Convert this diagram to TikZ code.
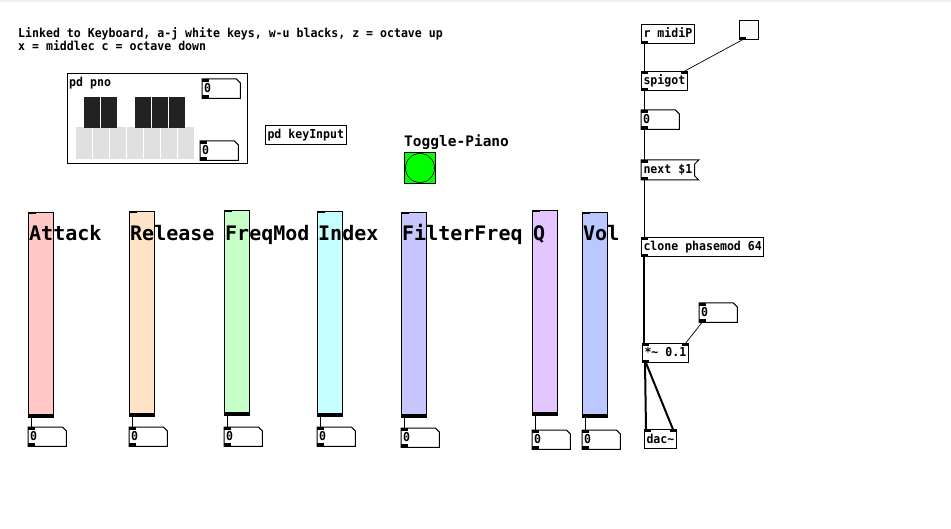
\documentclass[tikz,border=0pt]{standalone}
\usepackage{fontspec}
\setmonofont{DejaVu Sans Mono}
\newfontfamily\pdmono[FakeStretch=0.94]{DejaVu Sans Mono}
\usetikzlibrary{calc}
\newcommand\pdfont{\pdmono\bfseries\fontsize{12.3}{12.5}\selectfont}
\newcommand\pdin[1]{\fill (#1.north west) rectangle ++(7,3);}
\newcommand\pdinr[1]{\fill (#1.north east) rectangle ++(-7,3);}
\newcommand\pdout[1]{\fill (#1.south west) rectangle ++(7,-3);}
\newcommand\numbox[3]{%
  \node[num] (#1) at (#2,#3) {0};
  \draw[line width=1pt] (#1.north west) -- ($(#1.north east)+(-4,0)$) -- ($(#1.north east)+(0,4)$)
    -- (#1.south east) -- (#1.south west) -- cycle;
  \pdin{#1}\pdout{#1}}
\definecolor{attackc}{HTML}{FFC7C6}
\definecolor{releasec}{HTML}{FFE3C6}
\definecolor{freqc}{HTML}{C6FFC7}
\definecolor{indexc}{HTML}{C6FFFF}
\definecolor{filterc}{HTML}{C7C6FF}
\definecolor{qc}{HTML}{E3C6FF}
\definecolor{volc}{HTML}{BAC8FF}
\definecolor{keyw}{HTML}{E0E0E0}
\definecolor{keyb}{HTML}{222222}

\begin{document}
\begin{tikzpicture}[x=1pt,y=-1pt,
  obj/.style={draw,line width=1pt,anchor=north west,inner xsep=2pt,inner ysep=0pt,
    minimum height=19pt,text height=9pt,text depth=1pt,font=\pdfont},
  num/.style={anchor=north west,inner xsep=2pt,inner ysep=0pt,text width=34pt,
    minimum height=19pt,text height=9pt,text depth=1pt,align=left,font=\pdfont},
  ctl/.style={line width=1pt},
  sig/.style={line width=2pt},
  big/.style={font=\ttfamily\bfseries\fontsize{20}{20}\selectfont,anchor=base west,inner sep=0pt}]
\useasboundingbox (0,0) rectangle (951,529);
\fill[gray!12] (0,0) rectangle (951,2);

% comment
\node[anchor=base west,inner sep=0pt,font=\pdfont] (cmt1) at (18,37.5) {Linked to Keyboard, a-j white keys, w-u blacks, z = octave up};
\node[anchor=base west,inner sep=0pt,font=\pdfont] (cmt2) at (18,50.5) {x = middlec c = octave down};

% piano
\node[draw,line width=1pt,minimum width=180pt,minimum height=90pt,inner sep=0pt,anchor=north west] (pno) at (67,73) {};
\node[anchor=base west,inner sep=0pt,font=\pdfont] (pnol) at (69,87) {pd pno};
\foreach \k in {0,...,6}
  \fill[keyw] (76+\k*17,127) rectangle ++(16,32);
\foreach \k in {84,101,135,152,169}
  \fill[keyb] (\k,97) rectangle ++(16,31);
\numbox{pa}{202}{79}
\numbox{pb}{200}{141}

\node[obj] (keys) at (265,125) {pd keyInput};

% bang
\node[anchor=base west,inner sep=0pt,font=\ttfamily\bfseries\fontsize{14.5}{15}\selectfont] (bngl) at (404,146.5) {Toggle-Piano};
\node[draw,line width=1pt,fill=green,minimum size=31pt,inner sep=0pt,anchor=north west] (bng) at (404,152) {};
\draw[line width=0.6pt] (bng.center) circle (14.5);

% sliders
\foreach \lbl/\x/\y/\ny/\c [count=\i] in {Attack/28/212/427/attackc, Release/129/211/427/releasec,
    FreqMod/224/210/427/freqc, Index/317/211/427/indexc, FilterFreq/401/212/428/filterc,
    Q/532/210/430/qc, Vol/582/212/430/volc} {
  \node[draw,line width=1pt,fill=\c,minimum width=25pt,minimum height=205pt,inner sep=0pt,anchor=north west] (s\i) at (\x,\y) {};
  \fill (s\i.south west) rectangle ($(s\i.south east)+(0,-4)$);
  \fill (s\i.north west) rectangle ++(8,2);
  \node[big] (l\i) at (\x+1,241) {\lbl};
  \numbox{n\i}{\x}{\ny}
  \draw[ctl] ($(s\i.south west)+(3,0)$) -- ($(n\i.north west)+(3,0)$);
}

% right column
\node[obj] (midi) at (641,24) {r midiP};
\node[draw,line width=1pt,fill=white!98!black,minimum size=19pt,inner sep=0pt,anchor=north west] (tog) at (739,20) {};
\node[obj] (spig) at (641,71) {spigot};
\numbox{pn}{641}{110}
\node[obj,draw=none] (msg) at (641,160) {next \$1};
\draw[line width=1pt] (msg.north west) -- ($(msg.north east)+(4,0)$) -- ($(msg.north east)+(0,4)$)
  -- ($(msg.south east)+(0,-4)$) -- ($(msg.south east)+(4,0)$) -- (msg.south west) -- cycle;
\node[obj] (cln) at (641,237) {clone phasemod 64};
\numbox{gn}{699}{303}
\node[obj] (mul) at (642,343) {*\textasciitilde{} 0.1};
\node[obj] (dac) at (644,429) {dac\textasciitilde};

\pdout{midi}
\pdout{tog}
\pdin{spig}\pdinr{spig}\pdout{spig}
\pdin{msg}\pdout{msg}
\pdin{cln}\pdout{cln}
\pdin{mul}\pdinr{mul}\pdout{mul}
\pdin{dac}\pdinr{dac}

\draw[ctl] ($(midi.south west)+(3,0)$) -- ($(spig.north west)+(3,0)$);
\draw[line width=0.7pt] ($(tog.south west)+(3,0)$) -- ($(spig.north east)+(-3,0)$);
\draw[ctl] ($(spig.south west)+(3,0)$) -- ($(pn.north west)+(3,0)$);
\draw[ctl] ($(pn.south west)+(3,0)$) -- ($(msg.north west)+(3,0)$);
\draw[ctl] ($(msg.south west)+(3,0)$) -- ($(cln.north west)+(3,0)$);
\draw[sig] ($(cln.south west)+(3,0)$) -- ($(mul.north west)+(2,0)$);
\draw[line width=0.7pt] ($(gn.south west)+(3,0)$) -- ($(mul.north east)+(-3,0)$);
\draw[sig] ($(mul.south west)+(3,0)$) -- ($(dac.north west)+(2,0)$);
\draw[sig] ($(mul.south west)+(4,0)$) -- ($(dac.north east)+(-4,0)$);
\end{tikzpicture}
\end{document}
